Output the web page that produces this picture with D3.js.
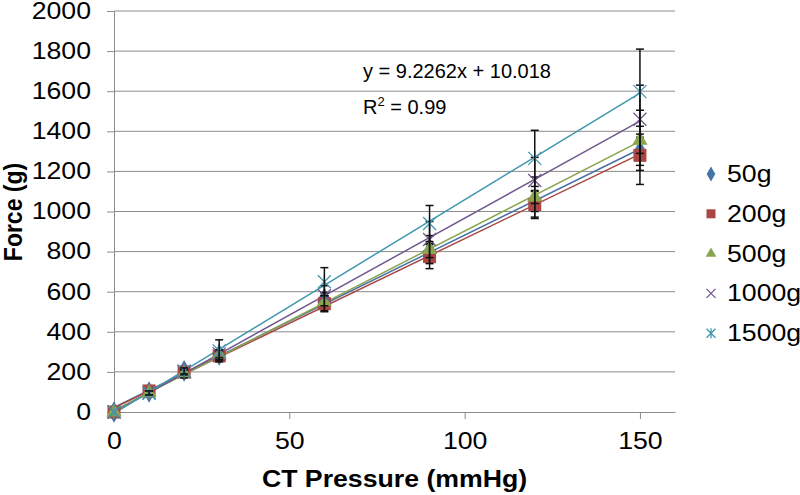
<!DOCTYPE html>
<html>
<head>
<meta charset="utf-8">
<script src="https://cdn.jsdelivr.net/npm/d3@7"></script>
<style>
  body { margin: 0; background: #fff; }
  svg { display: block; font-family: "Liberation Sans", Arial, sans-serif; }
  .tick text { fill: #000; }
</style>
</head>
<body>
<svg id="chart" width="800" height="495"></svg>
<script>
const pressures = [0, 10, 20, 30, 60, 90, 120, 150];
const seriesNames = ["50g", "200g", "500g", "1000g", "1500g"];
const force50 = [0, 100, 205, 285, 565, 800, 1050, 1300];
const force200 = [0, 105, 200, 280, 540, 775, 1035, 1280];
const force500 = [0, 95, 190, 285, 550, 810, 1072, 1355];
const force1000 = [0, 95, 200, 290, 580, 860, 1155, 1460];
const force1500 = [0, 95, 205, 305, 650, 940, 1265, 1598];
const err50 = [0, 10, 15, 25, 30, 40, 50, 70];
const err200 = [0, 10, 15, 20, 40, 60, 70, 145];
const err500 = [0, 10, 20, 25, 45, 70, 100, 150];
const err1000 = [0, 10, 15, 20, 50, 90, 115, 170];
const err1500 = [0, 10, 15, 55, 70, 90, 140, 212];
const yTicks = [0, 200, 400, 600, 800, 1000, 1200, 1400, 1600, 1800, 2000];
const xTicks = [0, 50, 100, 150];
const colors = ["#4572A7", "#AA4643", "#89A54E", "#71588F", "#4198AF"];
const markerTypes = ["diamond", "square", "triangle", "x", "star"];
const equationText = "y = 9.2262x + 10.018";

const svg = d3.select("#chart");
const margin = { top: 11, right: 125, bottom: 83, left: 114 };
const width = 800, height = 495;
const stretch = 1.16; // reference text is a bit wide

const x = d3.scaleLinear().domain([0, 160]).range([margin.left, width - margin.right]);
const y = d3.scaleLinear().domain([0, 2000]).range([height - margin.bottom, margin.top]);

// grid + outside y ticks
svg.append("g")
  .attr("transform", `translate(${margin.left},0)`)
  .call(d3.axisLeft(y).tickValues(yTicks).tickSize(7).tickFormat(""))
  .call(g => g.select(".domain").remove())
  .call(g => g.selectAll("line").attr("stroke", "#8c8c8c"));
svg.append("g")
  .selectAll("line")
  .data(yTicks.slice(1))
  .join("line")
  .attr("x1", margin.left).attr("x2", width - margin.right)
  .attr("y1", d => y(d)).attr("y2", d => y(d))
  .attr("stroke", "#8c8c8c").attr("stroke-width", 1);

// axes
const yAxis = svg.append("g")
  .attr("transform", `translate(${margin.left},0)`)
  .call(d3.axisLeft(y).tickValues(yTicks).tickSize(7).tickPadding(16).tickFormat(d3.format("d")))
  .call(g => g.selectAll("line").remove())
  .call(g => g.select(".domain").attr("stroke", "#8c8c8c"));
yAxis.selectAll("text")
  .attr("font-size", 23).attr("font-family", "Liberation Sans, Arial, sans-serif")
  .attr("x", 0).attr("transform", `translate(-23,0) scale(${stretch},1)`);

const xAxis = svg.append("g")
  .attr("transform", `translate(0,${y(0)})`)
  .call(d3.axisBottom(x).tickValues(xTicks).tickSize(7).tickSizeOuter(0).tickPadding(14))
  .call(g => g.select(".domain").attr("stroke", "#8c8c8c"))
  .call(g => g.selectAll("line").attr("stroke", "#8c8c8c"));
xAxis.selectAll("text")
  .attr("font-size", 23).attr("font-family", "Liberation Sans, Arial, sans-serif")
  .attr("transform", `scale(${stretch},1)`);

svg.append("text")
  .attr("transform", `translate(22,212) scale(${stretch},1) rotate(-90)`)
  .attr("text-anchor", "middle")
  .attr("font-size", 23).attr("font-weight", "bold")
  .text("Force (g)");
svg.append("text")
  .attr("transform", `translate(${x(80)},487) scale(${stretch},1)`)
  .attr("text-anchor", "middle")
  .attr("font-size", 23).attr("font-weight", "bold")
  .text("CT Pressure (mmHg)");

const series = [force50, force200, force500, force1000, force1500].map((vals, i) => ({
  name: seriesNames[i],
  color: colors[i],
  marker: markerTypes[i],
  points: pressures.map((p, j) => ({ x: p, y: vals[j], e: [err50, err200, err500, err1000, err1500][i][j] }))
}));

function fit(points) {
  const mx = d3.mean(points, d => d.x), my = d3.mean(points, d => d.y);
  const slope = d3.sum(points, d => (d.x - mx) * (d.y - my)) / d3.sum(points, d => (d.x - mx) ** 2);
  return { slope, intercept: my - slope * mx };
}

// trend lines
svg.append("g")
  .selectAll("line")
  .data(series)
  .join("line")
  .attr("x1", x(0)).attr("x2", x(150))
  .attr("y1", d => y(fit(d.points).intercept))
  .attr("y2", d => { const f = fit(d.points); return y(f.intercept + f.slope * 150); })
  .attr("stroke", d => d.color).attr("stroke-width", 1.5);

function drawMarker(g, type, color, s) {
  if (type === "diamond") {
    g.append("path").attr("d", d3.symbol(d3.symbolDiamond, s * s * 0.8)()).attr("fill", color);
  } else if (type === "square") {
    g.append("rect").attr("x", -s / 2).attr("y", -s / 2).attr("width", s).attr("height", s).attr("fill", color);
  } else if (type === "triangle") {
    g.append("path").attr("d", d3.symbol(d3.symbolTriangle, s * s * 0.6)()).attr("fill", color);
  } else if (type === "x") {
    const h = s / 2;
    g.append("path").attr("d", `M${-h},${-h}L${h},${h}M${-h},${h}L${h},${-h}`)
      .attr("stroke", color).attr("stroke-width", 1.3).attr("fill", "none");
  } else {
    const h = s / 2;
    g.append("path").attr("d", `M${-h},${-h}L${h},${h}M${-h},${h}L${h},${-h}M0,${-h * 1.1}L0,${h * 1.1}`)
      .attr("stroke", color).attr("stroke-width", 1.3).attr("fill", "none");
  }
}

// markers then error bars per series
series.forEach(s => {
  const layer = svg.append("g");
  s.points.forEach(p => {
    const g = layer.append("g").attr("transform", `translate(${x(p.x)},${y(p.y)})`);
    drawMarker(g, s.marker, s.color, 13);
  });
  const eb = layer.append("g").attr("stroke", "#111").attr("stroke-width", 1.5);
  s.points.filter(p => p.e > 0).forEach(p => {
    eb.append("line").attr("x1", x(p.x)).attr("x2", x(p.x)).attr("y1", y(p.y - p.e)).attr("y2", y(p.y + p.e));
    [p.y - p.e, p.y + p.e].forEach(v => {
      eb.append("line").attr("x1", x(p.x) - 4).attr("x2", x(p.x) + 4).attr("y1", y(v)).attr("y2", y(v));
    });
  });
});

// equation
svg.append("text").attr("x", 363).attr("y", 78).attr("font-size", 20).text(equationText);
const r2 = svg.append("text").attr("x", 363).attr("y", 114).attr("font-size", 20);
r2.append("tspan").text("R");
r2.append("tspan").attr("font-size", 13).attr("dy", -8).text("2");
r2.append("tspan").attr("dy", 8).text(" = 0.99");

// legend
const legend = svg.append("g").attr("transform", "translate(711,174)");
series.forEach((s, i) => {
  const g = legend.append("g").attr("transform", `translate(0,${i * 39.8})`);
  drawMarker(g, s.marker, s.color, 9);
  g.append("text")
    .attr("transform", `translate(16,8) scale(${stretch},1)`)
    .attr("font-size", 23).text(s.name);
});
</script>
</body>
</html>
